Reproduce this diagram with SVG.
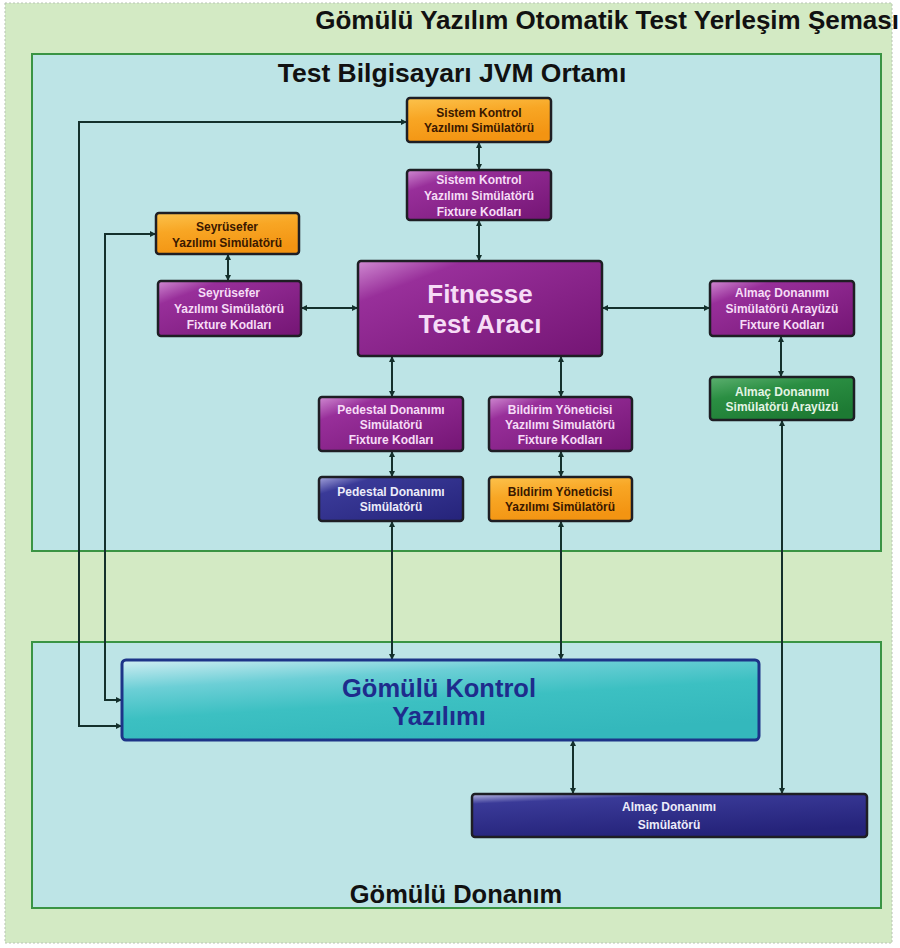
<svg xmlns="http://www.w3.org/2000/svg" width="900" height="948" viewBox="0 0 900 948">
<defs>
<linearGradient id="gPurple" x1="0" y1="0" x2="1" y2="1">
<stop offset="0" stop-color="#d08ad2"/><stop offset="0.22" stop-color="#982f9a"/><stop offset="1" stop-color="#741574"/>
</linearGradient>
<linearGradient id="gOrange" x1="0" y1="0" x2="0.3" y2="1">
<stop offset="0" stop-color="#fcc24c"/><stop offset="0.45" stop-color="#f8a624"/><stop offset="1" stop-color="#f39412"/>
</linearGradient>
<linearGradient id="gNavy" x1="0" y1="0" x2="1" y2="1">
<stop offset="0" stop-color="#a5a5dc"/><stop offset="0.2" stop-color="#3a3a98"/><stop offset="1" stop-color="#25237a"/>
</linearGradient>
<linearGradient id="gNavyWide" x1="0" y1="0" x2="0.4" y2="1">
<stop offset="0" stop-color="#b8b8e2"/><stop offset="0.2" stop-color="#3a3a98"/><stop offset="1" stop-color="#25237a"/>
</linearGradient>
<linearGradient id="gGreen" x1="0" y1="0" x2="0.6" y2="1">
<stop offset="0" stop-color="#5cb070"/><stop offset="0.4" stop-color="#2a8e42"/><stop offset="1" stop-color="#1d7a33"/>
</linearGradient>
<linearGradient id="gTeal" x1="0" y1="0" x2="0.5" y2="1">
<stop offset="0" stop-color="#d2eef3"/><stop offset="0.3" stop-color="#6ccfd6"/><stop offset="0.6" stop-color="#3cc0c2"/><stop offset="1" stop-color="#34b8bc"/>
</linearGradient>
<marker id="arr" viewBox="0 0 10 10" refX="10" refY="5" markerWidth="7" markerHeight="6" markerUnits="userSpaceOnUse" orient="auto-start-reverse">
<path d="M0,0 L10,5 L0,10 z" fill="#14302c"/>
</marker>
<style>
.bg{fill:#d3eac4;stroke:#b8c4b4;stroke-width:1;stroke-dasharray:2 2}
.panel{fill:#bde4e6;stroke:#3a9444;stroke-width:2}
.h{font-family:"Liberation Sans",Arial,sans-serif;font-weight:bold;fill:#111}
.box{stroke:#1e1e24;stroke-width:2.5}
.t{font-family:"Liberation Sans",Arial,sans-serif;font-weight:bold;text-anchor:middle}
.s{font-size:12px}
.big{font-size:26px}
.tp{fill:#f6dcf6}
.to{fill:#3a1800}
.tn{fill:#ececfa}
.tg{fill:#e4f4e4}
.tk{fill:#1e2c8c;font-size:25.5px}
.c{fill:none;stroke:#14302c;stroke-width:2}
</style>
</defs>
<rect class="bg" x="5" y="3" width="887" height="940"/>
<text class="h" x="899" y="29" text-anchor="end" style="font-size:26px">Gömülü Yazılım Otomatik Test Yerleşim Şeması</text>
<g id="test-pc">
<rect class="panel" x="32" y="54" width="849" height="497"/>
<text class="h" x="452" y="82" text-anchor="middle" style="font-size:26.5px">Test Bilgisayarı JVM Ortamı</text>
</g>
<g id="embedded-hw">
<rect class="panel" x="32" y="642" width="849" height="266"/>
<text class="h" x="456" y="903" text-anchor="middle" style="font-size:25.5px">Gömülü Donanım</text>
</g>
<g id="connectors">
<line class="c" x1="479" y1="142" x2="479" y2="170" marker-start="url(#arr)" marker-end="url(#arr)"/>
<line class="c" x1="479" y1="220" x2="479" y2="261" marker-start="url(#arr)" marker-end="url(#arr)"/>
<line class="c" x1="228" y1="254" x2="228" y2="281" marker-start="url(#arr)" marker-end="url(#arr)"/>
<line class="c" x1="301" y1="308" x2="358" y2="308" marker-start="url(#arr)" marker-end="url(#arr)"/>
<line class="c" x1="602" y1="308" x2="710" y2="308" marker-start="url(#arr)" marker-end="url(#arr)"/>
<line class="c" x1="781" y1="336" x2="781" y2="377" marker-start="url(#arr)" marker-end="url(#arr)"/>
<line class="c" x1="392" y1="356" x2="392" y2="397" marker-start="url(#arr)" marker-end="url(#arr)"/>
<line class="c" x1="561" y1="356" x2="561" y2="397" marker-start="url(#arr)" marker-end="url(#arr)"/>
<line class="c" x1="392" y1="451" x2="392" y2="477" marker-start="url(#arr)" marker-end="url(#arr)"/>
<line class="c" x1="561" y1="451" x2="561" y2="477" marker-start="url(#arr)" marker-end="url(#arr)"/>
<line class="c" x1="392" y1="521" x2="392" y2="660" marker-start="url(#arr)" marker-end="url(#arr)"/>
<line class="c" x1="561" y1="521" x2="561" y2="660" marker-start="url(#arr)" marker-end="url(#arr)"/>
<line class="c" x1="782" y1="420" x2="782" y2="794" marker-start="url(#arr)" marker-end="url(#arr)"/>
<line class="c" x1="573" y1="740" x2="573" y2="794" marker-start="url(#arr)" marker-end="url(#arr)"/>
<polyline class="c" points="122,726 79,726 79,122 407,122" marker-start="url(#arr)" marker-end="url(#arr)"/>
<polyline class="c" points="122,700 105,700 105,234 156,234" marker-start="url(#arr)" marker-end="url(#arr)"/>
</g>
<g id="sistem-kontrol-sim">
<rect class="box" x="407" y="98" width="144" height="44" rx="3" fill="url(#gOrange)"/>
<text class="t s to" x="479" y="117">Sistem Kontrol</text>
<text class="t s to" x="479" y="132">Yazılımı Simülatörü</text>
</g>
<g id="sistem-kontrol-fixture">
<rect class="box" x="407" y="170" width="144" height="50" rx="3" fill="url(#gPurple)"/>
<text class="t s tp" x="479" y="184">Sistem Kontrol</text>
<text class="t s tp" x="479" y="200">Yazılımı Simülatörü</text>
<text class="t s tp" x="479" y="216">Fixture Kodları</text>
</g>
<g id="seyrusefer-sim">
<rect class="box" x="156" y="213" width="143" height="41" rx="3" fill="url(#gOrange)"/>
<text class="t s to" x="227" y="231">Seyrüsefer</text>
<text class="t s to" x="227" y="247">Yazılımı Simülatörü</text>
</g>
<g id="seyrusefer-fixture">
<rect class="box" x="158" y="281" width="143" height="55" rx="3" fill="url(#gPurple)"/>
<text class="t s tp" x="229" y="297">Seyrüsefer</text>
<text class="t s tp" x="229" y="313">Yazılımı Simülatörü</text>
<text class="t s tp" x="229" y="329">Fixture Kodları</text>
</g>
<g id="fitnesse">
<rect class="box" x="358" y="261" width="244" height="95" rx="3" fill="url(#gPurple)"/>
<text class="t big tp" x="480" y="303">Fitnesse</text>
<text class="t big tp" x="480" y="333">Test Aracı</text>
</g>
<g id="almac-fixture">
<rect class="box" x="710" y="281" width="144" height="55" rx="3" fill="url(#gPurple)"/>
<text class="t s tp" x="782" y="297">Almaç Donanımı</text>
<text class="t s tp" x="782" y="313">Simülatörü Arayüzü</text>
<text class="t s tp" x="782" y="329">Fixture Kodları</text>
</g>
<g id="almac-arayuz">
<rect class="box" x="710" y="377" width="144" height="43" rx="3" fill="url(#gGreen)"/>
<text class="t s tg" x="782" y="396">Almaç Donanımı</text>
<text class="t s tg" x="782" y="411">Simülatörü Arayüzü</text>
</g>
<g id="pedestal-fixture">
<rect class="box" x="319" y="397" width="144" height="54" rx="3" fill="url(#gPurple)"/>
<text class="t s tp" x="391" y="414">Pedestal Donanımı</text>
<text class="t s tp" x="391" y="429">Simülatörü</text>
<text class="t s tp" x="391" y="444">Fixture Kodları</text>
</g>
<g id="bildirim-fixture">
<rect class="box" x="489" y="397" width="143" height="54" rx="3" fill="url(#gPurple)"/>
<text class="t s tp" x="560" y="414">Bildirim Yöneticisi</text>
<text class="t s tp" x="560" y="429">Yazılımı Simulatörü</text>
<text class="t s tp" x="560" y="444">Fixture Kodları</text>
</g>
<g id="pedestal-sim">
<rect class="box" x="319" y="477" width="144" height="44" rx="3" fill="url(#gNavy)"/>
<text class="t s tn" x="391" y="496">Pedestal Donanımı</text>
<text class="t s tn" x="391" y="511">Simülatörü</text>
</g>
<g id="bildirim-sim">
<rect class="box" x="489" y="477" width="143" height="44" rx="3" fill="url(#gOrange)"/>
<text class="t s to" x="560" y="496">Bildirim Yöneticisi</text>
<text class="t s to" x="560" y="511">Yazılımı Simülatörü</text>
</g>
<g id="gomulu-kontrol">
<rect x="122" y="660" width="637" height="80" rx="4" fill="url(#gTeal)" stroke="#1d3488" stroke-width="3"/>
<text class="t tk" x="439" y="697">Gömülü Kontrol</text>
<text class="t tk" x="439" y="725">Yazılımı</text>
</g>
<g id="almac-donanim-sim">
<rect class="box" x="472" y="794" width="395" height="43" rx="3" fill="url(#gNavyWide)"/>
<text class="t s tn" x="669" y="811">Almaç Donanımı</text>
<text class="t s tn" x="669" y="829">Simülatörü</text>
</g>
</svg>
